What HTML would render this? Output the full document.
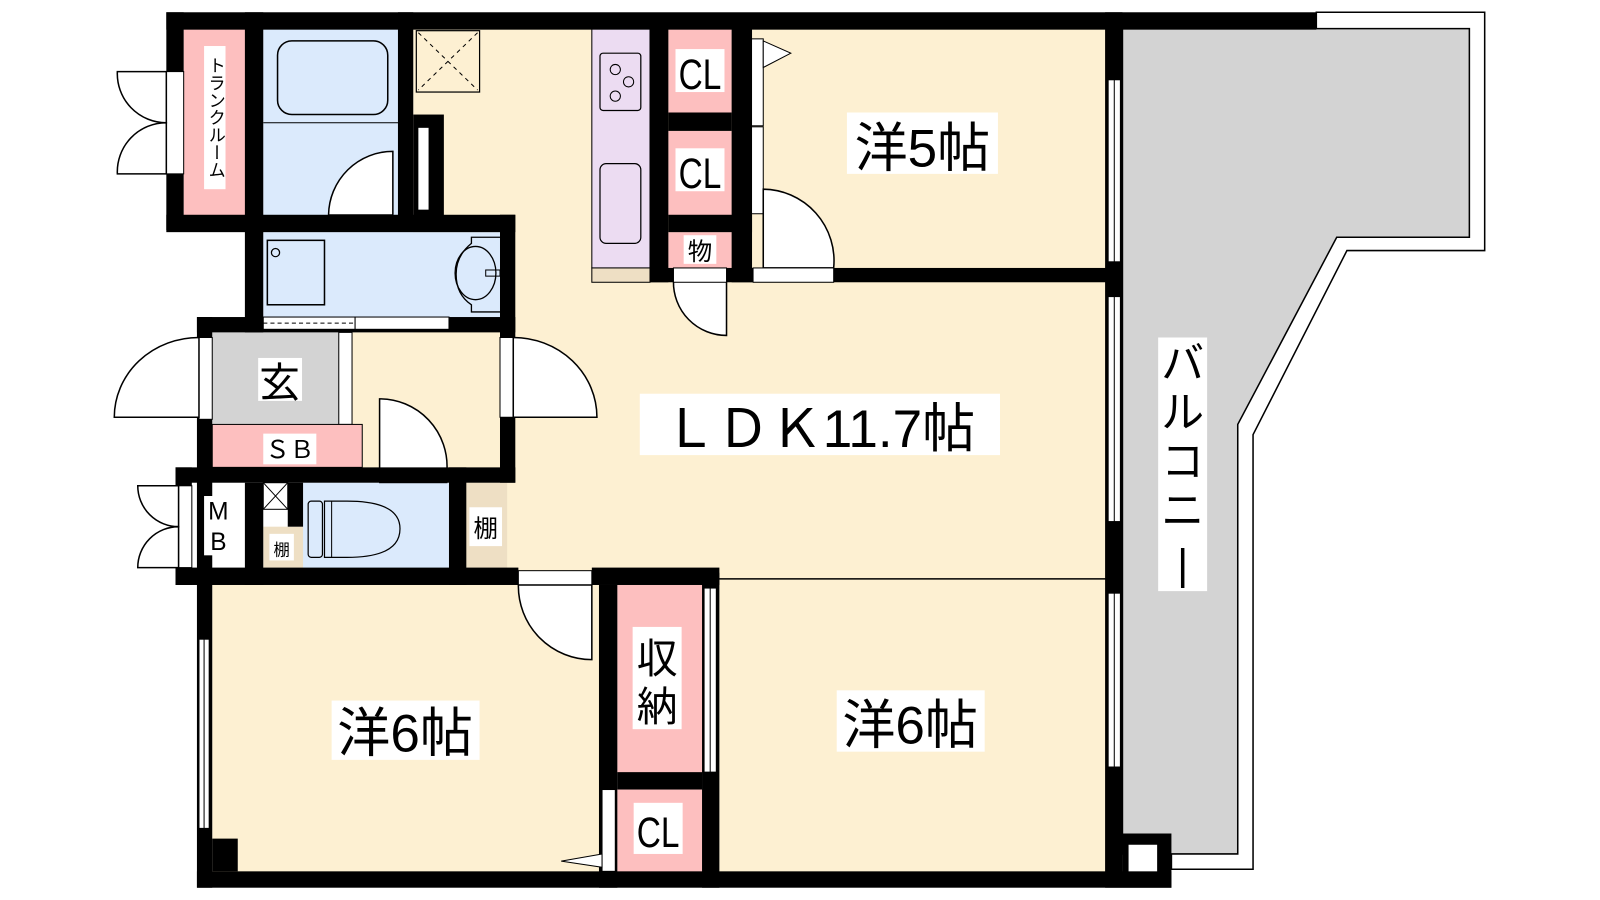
<!DOCTYPE html>
<html><head><meta charset="utf-8"><style>
html,body{margin:0;padding:0;background:#fff;}
svg{display:block;}
text{font-family:"Liberation Sans","Noto Sans CJK JP",sans-serif;}
</style></head><body>
<svg width="1600" height="900" viewBox="0 0 1600 900" xmlns="http://www.w3.org/2000/svg">
<rect width="1600" height="900" fill="#fff"/>
<g transform="scale(1.0204 1.0227)">
<polygon points="1290,12 1455,12 1455,245 1320,245 1228,425 1228,850 1148,850 1148,28 1290,28" fill="#fff" stroke="#000" stroke-width="1.5"/>
<polygon points="1100,28 1440,28 1440,232 1310,232 1213,415 1213,835 1100,835" fill="#d3d3d3" stroke="#000" stroke-width="1.5"/>
<rect x="405" y="28" width="680" height="540" fill="#fdf0d2"/>
<rect x="345" y="325" width="150" height="140" fill="#fdf0d2"/>
<rect x="208" y="572" width="385" height="282" fill="#fdf0d2"/>
<rect x="705" y="565" width="380" height="290" fill="#fdf0d2"/>
<line x1="705" y1="566" x2="1085" y2="566" stroke="#000" stroke-width="1.5"/>
<rect x="737" y="28" width="348" height="236" fill="#fdf0d2"/>
<rect x="180" y="28" width="62" height="184" fill="#fdbfbf"/>
<rect x="258" y="28" width="134" height="184" fill="#dbeafc"/>
<line x1="258" y1="120" x2="392" y2="120" stroke="#000" stroke-width="1"/>
<rect x="272" y="40" width="108" height="72" rx="14" fill="none" stroke="#000" stroke-width="1.5"/>
<path d="M322,210 A63,63 0 0 1 385,148 L385,210" fill="#fff" stroke="#000" stroke-width="1.5"/>
<rect x="322" y="210" width="63" height="14" fill="#fff" stroke="#000" stroke-width="1"/>
<rect x="258" y="227" width="234" height="85" fill="#dbeafc"/>
<rect x="262" y="235" width="56" height="63" fill="none" stroke="#000" stroke-width="1.5"/>
<circle cx="270" cy="247" r="4" fill="none" stroke="#000" stroke-width="1.2"/>
<path d="M490,232 L462,232 L462,238 Q447,250 447,268 Q447,288 462,298 L462,305 L490,305" fill="none" stroke="#000" stroke-width="1.3"/>
<ellipse cx="466" cy="267" rx="20" ry="26" fill="none" stroke="#000" stroke-width="1.3"/>
<rect x="476" y="264" width="14" height="6" fill="none" stroke="#000" stroke-width="1"/>
<rect x="208" y="325" width="124" height="90" fill="#d3d3d3"/>
<rect x="332" y="325" width="13" height="90" fill="#fff" stroke="#000" stroke-width="1"/>
<rect x="208" y="415" width="147" height="42" fill="#fdbfbf" stroke="#000" stroke-width="1"/>
<rect x="188" y="472" width="52" height="85" fill="#fff"/>
<rect x="258" y="515" width="40" height="42" fill="#eedfc4"/>
<rect x="258" y="472" width="24" height="26" fill="#fff" stroke="#000" stroke-width="1"/>
<path d="M258,472 L282,498 M282,472 L258,498" stroke="#000" stroke-width="1"/>
<rect x="297" y="472" width="143" height="85" fill="#dbeafc"/>
<rect x="302" y="490" width="14" height="55" rx="3" fill="none" stroke="#000" stroke-width="1.2"/>
<path d="M318,490 L340,490 Q392,490 392,517 Q392,545 340,545 L318,545 Z" fill="none" stroke="#000" stroke-width="1.2"/>
<line x1="325" y1="490" x2="325" y2="545" stroke="#000" stroke-width="1"/>
<rect x="457" y="472" width="40" height="85" fill="#eedfc4"/>
<path d="M372,390 A66,66 0 0 1 438,460 L372,460 Z" fill="#fff" stroke="#000" stroke-width="1.5"/>
<rect x="372" y="460" width="66" height="12" fill="#fff" stroke="#000" stroke-width="1"/>
<rect x="580" y="28" width="57" height="234" fill="#ecdcf2" stroke="#000" stroke-width="1"/>
<rect x="580" y="262" width="57" height="14" fill="#eedfc4" stroke="#000" stroke-width="1"/>
<rect x="588" y="52" width="40" height="56" rx="3" fill="none" stroke="#000" stroke-width="1.2"/>
<circle cx="603" cy="68" r="5" fill="none" stroke="#000"/><circle cx="616" cy="80" r="5" fill="none" stroke="#000"/><circle cx="603" cy="94" r="5" fill="none" stroke="#000"/>
<rect x="588" y="160" width="40" height="78" rx="6" fill="none" stroke="#000" stroke-width="1.2"/>
<rect x="655" y="28" width="62" height="84" fill="#fdbfbf"/>
<rect x="655" y="128" width="62" height="84" fill="#fdbfbf"/>
<rect x="655" y="227" width="62" height="35" fill="#fdbfbf"/>
<rect x="605" y="572" width="83" height="185" fill="#fdbfbf"/>
<rect x="605" y="770" width="83" height="84" fill="#fdbfbf"/>
<rect x="733" y="38" width="15" height="85" fill="#fff" stroke="#000"/>
<rect x="733" y="124" width="15" height="85" fill="#fff" stroke="#000"/>
<polygon points="748,40 775,52 748,66" fill="#fff" stroke="#000"/>
<polygon points="748,186 775,198 748,210" fill="#fff" stroke="#000"/>
<path d="M748,185 A70,70 0 0 1 817,262 L748,262 Z" fill="#fff" stroke="#000" stroke-width="1.5"/>
<rect x="738" y="262" width="79" height="14" fill="#fff" stroke="#000"/>
<path d="M660,275 A52,52 0 0 0 712,328 L712,275 Z" fill="#fff" stroke="#000" stroke-width="1.5"/>
<rect x="660" y="262" width="52" height="14" fill="#fff" stroke="#000"/>
<rect x="408" y="30" width="62" height="60" fill="#fdf0d2" stroke="#000" stroke-width="1.2"/>
<path d="M410,32 L468,88 M468,32 L410,88" stroke="#000" stroke-width="1" stroke-dasharray="4,4"/>
<g fill="#000">
<rect x="163" y="12" width="1127" height="17"/>
<rect x="163" y="12" width="17" height="213"/>
<rect x="240" y="12" width="18" height="215"/>
<rect x="390" y="12" width="15" height="200"/>
<rect x="405" y="112" width="30" height="100"/>
<rect x="163" y="210" width="342" height="17"/>
<rect x="240" y="210" width="18" height="115"/>
<rect x="490" y="210" width="15" height="122"/>
<rect x="193" y="310" width="312" height="15"/>
<rect x="193" y="310" width="15" height="262"/>
<rect x="490" y="408" width="15" height="64"/>
<rect x="172" y="457" width="333" height="15"/>
<rect x="172" y="457" width="16" height="115"/>
<rect x="240" y="472" width="18" height="100"/>
<rect x="282" y="472" width="15" height="43"/>
<rect x="440" y="457" width="17" height="115"/>
<rect x="172" y="555" width="336" height="17"/>
<rect x="580" y="555" width="125" height="17"/>
<rect x="193" y="572" width="15" height="296"/>
<rect x="208" y="820" width="25" height="32"/>
<rect x="587" y="572" width="18" height="296"/>
<rect x="605" y="755" width="83" height="17"/>
<rect x="688" y="560" width="17" height="308"/>
<rect x="193" y="852" width="955" height="16"/>
<rect x="1083" y="12" width="17" height="856"/>
<rect x="1100" y="815" width="48" height="53"/>
<rect x="637" y="28" width="18" height="248"/>
<rect x="655" y="110" width="62" height="18"/>
<rect x="655" y="210" width="82" height="17"/>
<rect x="717" y="28" width="20" height="248"/>
<rect x="637" y="262" width="23" height="14"/>
<rect x="712" y="262" width="26" height="14"/>
<rect x="817" y="262" width="283" height="14"/>
</g>
<rect x="1106" y="826" width="28" height="26" fill="#fff"/>
<rect x="410" y="125" width="10" height="80" fill="#fff"/>
<g fill="#fff" stroke="#000" stroke-width="1">
<rect x="1086" y="78" width="12" height="178"/><rect x="1086" y="290" width="12" height="220"/><rect x="1086" y="580" width="12" height="170"/>
<rect x="195" y="625" width="10" height="185"/>
<rect x="690" y="575" width="12" height="180"/>
<rect x="590" y="772" width="13" height="80"/>
<rect x="163" y="70" width="17" height="100"/>
<rect x="175" y="475" width="13" height="80"/>
<rect x="195" y="330" width="13" height="80"/>
<rect x="490" y="330" width="13" height="78"/>
<rect x="258" y="310" width="90" height="12"/><rect x="348" y="310" width="92" height="12"/>
<rect x="508" y="558" width="72" height="14"/>
</g>
<line x1="1092" y1="78" x2="1092" y2="256" stroke="#000"/><line x1="1092" y1="290" x2="1092" y2="510" stroke="#000"/><line x1="1092" y1="580" x2="1092" y2="750" stroke="#000"/>
<line x1="200" y1="625" x2="200" y2="810" stroke="#000"/><line x1="696" y1="575" x2="696" y2="755" stroke="#000"/>
<line x1="258" y1="316" x2="348" y2="316" stroke="#000" stroke-dasharray="4,3"/>
<polygon points="590,835 550,842 590,848" fill="#fff" stroke="#000"/>
<g fill="#fff" stroke="#000" stroke-width="1.5">
<path d="M163,70 L115,70 A48,48 0 0 0 163,120 Z"/>
<path d="M163,170 L115,170 A48,48 0 0 1 163,120 Z"/>
<path d="M175,475 L135,475 A40,40 0 0 0 175,515 Z"/>
<path d="M175,555 L135,555 A40,40 0 0 1 175,515 Z"/>
<path d="M195,330 A83,78 0 0 0 112,408 L195,408 Z"/>
<path d="M503,330 A82,78 0 0 1 585,408 L503,408 Z"/>
<path d="M508,572 A72,72 0 0 0 580,645 L580,572 Z"/>
</g>
<g fill="#fff">
<rect x="200" y="45" width="21" height="140"/>
<rect x="253" y="350" width="43" height="42"/>
<rect x="258" y="424" width="52" height="30"/>
<rect x="662" y="48" width="48" height="42"/>
<rect x="662" y="145" width="48" height="42"/>
<rect x="670" y="230" width="32" height="28"/>
<rect x="830" y="110" width="148" height="60"/>
<rect x="627" y="385" width="353" height="60"/>
<rect x="325" y="685" width="145" height="58"/>
<rect x="820" y="675" width="145" height="60"/>
<rect x="620" y="613" width="48" height="100"/>
<rect x="621" y="785" width="48" height="50"/>
<rect x="1135" y="330" width="48" height="248"/>
<rect x="200" y="485" width="28" height="58"/>
<rect x="460" y="496" width="32" height="38"/>
<rect x="264" y="522" width="24" height="26"/>
</g>
<g fill="#000" text-anchor="middle">
<text x="210" y="115" font-size="17" style="writing-mode:vertical-rl" dominant-baseline="middle">トランクルーム</text>
<text x="274" y="388" font-size="40">玄</text>
<text x="284" y="448" font-size="24">ＳＢ</text>
<text x="686" y="87" font-size="42" transform="translate(686 0) scale(0.78 1) translate(-686 0)">CL</text>
<text x="686" y="184" font-size="42" transform="translate(686 0) scale(0.78 1) translate(-686 0)">CL</text>
<text x="686" y="254" font-size="24">物</text>
<text x="904" y="163" font-size="52">洋5帖</text>
<text x="803" y="437" font-size="52">ＬＤＫ11.7帖</text>
<text x="397" y="735" font-size="52">洋6帖</text>
<text x="892" y="727" font-size="52">洋6帖</text>
<text x="644" y="658" font-size="40">収</text>
<text x="644" y="705" font-size="40">納</text>
<text x="645" y="828" font-size="42" transform="translate(645 0) scale(0.78 1) translate(-645 0)">CL</text>
<text x="1159" y="370" font-size="42">バ</text>
<text x="1159" y="418" font-size="42">ル</text>
<text x="1159" y="466" font-size="42">コ</text>
<text x="1159" y="514" font-size="42">ニ</text>
<text x="1159" y="566" font-size="42">|</text>
<text x="214" y="508" font-size="24">M</text>
<text x="214" y="538" font-size="24">B</text>
<text x="476" y="525" font-size="24">棚</text>
<text x="276" y="543" font-size="16">棚</text>
</g>
</g>
</svg>
</body></html>
